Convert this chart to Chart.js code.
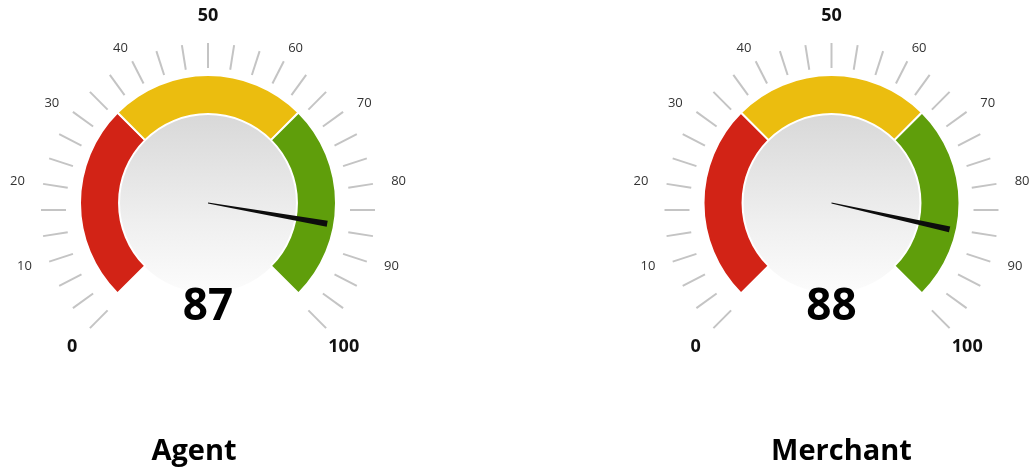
<!DOCTYPE html>
<html><head><meta charset="utf-8">
<script src="https://cdn.jsdelivr.net/npm/chart.js@4/dist/chart.umd.min.js"></script>
<style>
html,body{margin:0;padding:0;background:#fff;width:1030px;height:470px;overflow:hidden}
canvas{position:absolute;left:0;top:0}
</style></head><body>
<canvas id="g0" width="1030" height="470"></canvas>
<canvas id="g1" width="1030" height="470"></canvas>
<script>
// ---- data ----
const gaugeTitles = ['Agent', 'Merchant'];
const gaugeValues = [87, 88];
const bandLabels = ['Low', 'Medium', 'High'];
const bandSizes = [100 / 3, 100 / 3, 100 / 3];
const bandColors = ['#d22316', '#ebbd0f', '#5f9e0b'];
const scaleMin = 0;
const scaleMax = 100;
const minorTickStep = 10 / 3;
const tickLabels = ['0', '10', '20', '30', '40', '50', '60', '70', '80', '90', '100'];
const majorLabels = ['0', '50', '100'];

// ---- layout (not data) ----
const W = 1030, H = 470;
const OUTER_R = 128;
const layouts = [
  { cx: 208, cy: 203, titleDx: -14 },
  { cx: 831.5, cy: 203, titleDx: 10 }
];

function angleFor(chart, v) {
  const arcs = chart.getDatasetMeta(0).data;
  const s = arcs[0].startAngle, e = arcs[arcs.length - 1].endAngle;
  return s + (v - scaleMin) / (scaleMax - scaleMin) * (e - s);
}

const gaugePlugin = {
  id: 'gauge',
  beforeDatasetsDraw(chart, args, opts) {
    const ctx = chart.ctx;
    const arc = chart.getDatasetMeta(0).data[0];
    const { x, y, innerRadius } = arc.getProps(['x', 'y', 'innerRadius'], true);
    // inner disk
    const r = innerRadius + 1;
    const g = ctx.createLinearGradient(0, y - r, 0, y + r);
    g.addColorStop(0, '#d8d8d8');
    g.addColorStop(0.6, '#efefef');
    g.addColorStop(1, '#fcfcfc');
    ctx.save();
    ctx.beginPath();
    ctx.arc(x, y, r, 0, Math.PI * 2);
    ctx.fillStyle = g;
    ctx.fill();
    // ticks
    const tx = x, ty = y + 7;
    ctx.strokeStyle = '#c4c4c4';
    ctx.lineWidth = 2;
    for (let v = scaleMin; v <= scaleMax + 1e-6; v += minorTickStep) {
      const a = angleFor(chart, v);
      const c = Math.cos(a), s = Math.sin(a);
      ctx.beginPath();
      ctx.moveTo(tx + c * 142, ty + s * 142);
      ctx.lineTo(tx + c * 167, ty + s * 167);
      ctx.stroke();
    }
    // labels
    ctx.textAlign = 'center';
    ctx.textBaseline = 'middle';
    tickLabels.forEach((lab) => {
      const v = parseFloat(lab);
      const a = angleFor(chart, v);
      const major = majorLabels.includes(lab);
      const Rx = major ? 192 : 193;
      const Ry = major ? 194 : 181;
      ctx.font = major ? 'bold 18px "Open Sans"' : '13px "Open Sans"';
      ctx.fillStyle = major ? '#111' : '#333';
      ctx.fillText(lab, tx + Math.cos(a) * Rx, ty + Math.sin(a) * Ry);
    });
    ctx.restore();
  },
  afterDatasetsDraw(chart, args, opts) {
    const ctx = chart.ctx;
    const arc = chart.getDatasetMeta(0).data[0];
    const { x, y } = arc.getProps(['x', 'y'], true);
    const a = angleFor(chart, opts.value);
    const c = Math.cos(a), s = Math.sin(a);
    const px = -s, py = c;
    const L = 121;
    ctx.save();
    ctx.beginPath();
    ctx.moveTo(x + px * 0.4, y + py * 0.4);
    ctx.lineTo(x + c * L + px * 3, y + s * L + py * 3);
    ctx.lineTo(x + c * L - px * 3, y + s * L - py * 3);
    ctx.lineTo(x - px * 0.4, y - py * 0.4);
    ctx.closePath();
    ctx.fillStyle = '#0d0d0d';
    ctx.fill();
    // value
    ctx.textAlign = 'center';
    ctx.textBaseline = 'alphabetic';
    ctx.fillStyle = '#000';
    ctx.font = 'bold 44px "Open Sans"';
    ctx.fillText(String(opts.value), x, y + 117);
    // title
    ctx.font = 'bold 29px "Open Sans"';
    ctx.fillText(opts.title, x + opts.titleDx, 460);
    ctx.restore();
  }
};

gaugeTitles.forEach((title, i) => {
  const L = layouts[i];
  const offY = OUTER_R * (1 - Math.SQRT1_2) / 2;
  const areaCy = L.cy - offY;
  const hw = Math.min(L.cx, W - L.cx);
  new Chart(document.getElementById('g' + i), {
    type: 'doughnut',
    data: {
      labels: bandLabels,
      datasets: [{
        data: bandSizes,
        backgroundColor: bandColors,
        borderColor: '#ffffff',
        borderWidth: 2,
        hoverOffset: 0
      }]
    },
    options: {
      responsive: false,
      animation: false,
      events: [],
      devicePixelRatio: 1,
      rotation: -135,
      circumference: 270,
      radius: OUTER_R,
      cutout: '69.5%',
      layout: {
        padding: {
          left: L.cx - hw,
          right: W - L.cx - hw,
          top: 0,
          bottom: H - 2 * areaCy
        }
      },
      plugins: {
        legend: { display: false },
        tooltip: { enabled: false },
        gauge: { value: gaugeValues[i], title: title, titleDx: L.titleDx }
      }
    },
    plugins: [gaugePlugin]
  });
});
</script>
</body></html>
